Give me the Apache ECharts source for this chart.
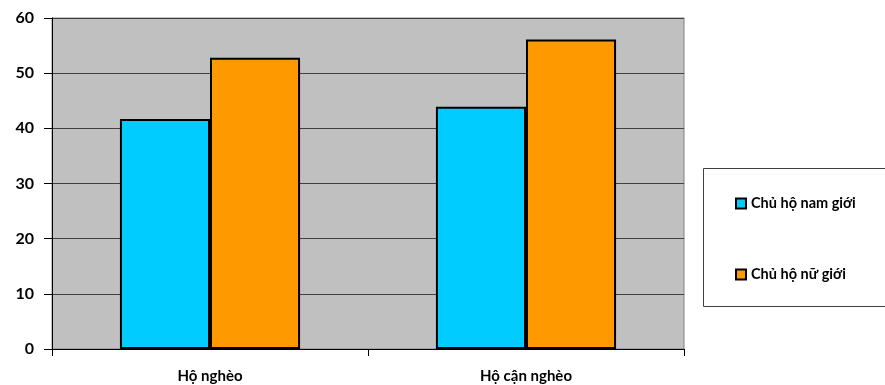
<!DOCTYPE html>
<html><head><meta charset="utf-8">
<script src="https://cdn.jsdelivr.net/npm/echarts@6/dist/echarts.min.js"></script>
<style>html,body{margin:0;padding:0;background:#fff}#c{width:885px;height:385px}</style>
</head><body><div id="c"></div>
<script>
const categories = ['Hộ nghèo', 'Hộ cận nghèo'];
const seriesNames = ['Chủ hộ nam giới', 'Chủ hộ nữ giới'];
const maleValues = [41.7, 43.9];
const femaleValues = [52.8, 56.1];
const yTicks = [0, 10, 20, 30, 40, 50, 60];

const chart = echarts.init(document.getElementById('c'), null, {renderer: 'canvas'});
const font = 'Lato, "Open Sans", sans-serif';
chart.setOption({
  animation: false,
  backgroundColor: '#fff',
  grid: {left: 52, right: 201, top: 18, bottom: 36, show: true, backgroundColor: '#c0c0c0', borderColor: '#808080', borderWidth: 1},
  graphic: [{type: 'rect', shape: {x: 703.5, y: 168.5, width: 190, height: 138}, style: {fill: '#fff', stroke: '#404040', lineWidth: 1}, z: 0}],
  legend: {
    orient: 'vertical', left: 735, top: 196, itemGap: 56, itemWidth: 10, itemHeight: 10, padding: 0,
    textStyle: {fontFamily: font, fontWeight: 'bold', fontSize: 14.5, lineHeight: 14, color: '#000'},
    data: seriesNames.map(n => ({name: n, icon: 'rect'})), z: 5
  },
  xAxis: {
    type: 'category', data: categories,
    axisLine: {lineStyle: {color: '#000', width: 1}},
    axisTick: {show: true, alignWithLabel: false, length: 7, lineStyle: {color: '#000'}},
    axisLabel: {fontFamily: font, fontWeight: 'bold', fontSize: 15, color: '#000', margin: 20}
  },
  yAxis: {
    type: 'value', min: yTicks[0], max: yTicks[yTicks.length - 1], interval: 10,
    axisLine: {show: true, lineStyle: {color: '#000', width: 1}},
    axisTick: {show: true, length: 8, lineStyle: {color: '#000'}},
    axisLabel: {fontFamily: font, fontWeight: 'bold', fontSize: 16, color: '#000', margin: 18},
    splitLine: {show: true, lineStyle: {color: '#404040', width: 1}}
  },
  series: [
    {name: seriesNames[0], type: 'bar', data: maleValues, barGap: '0%', barCategoryGap: '43%',
     itemStyle: {color: '#00ccff', borderColor: '#000', borderWidth: 2}},
    {name: seriesNames[1], type: 'bar', data: femaleValues, barGap: '0%', barCategoryGap: '43%',
     itemStyle: {color: '#ff9900', borderColor: '#000', borderWidth: 2}}
  ]
});
</script></body></html>
